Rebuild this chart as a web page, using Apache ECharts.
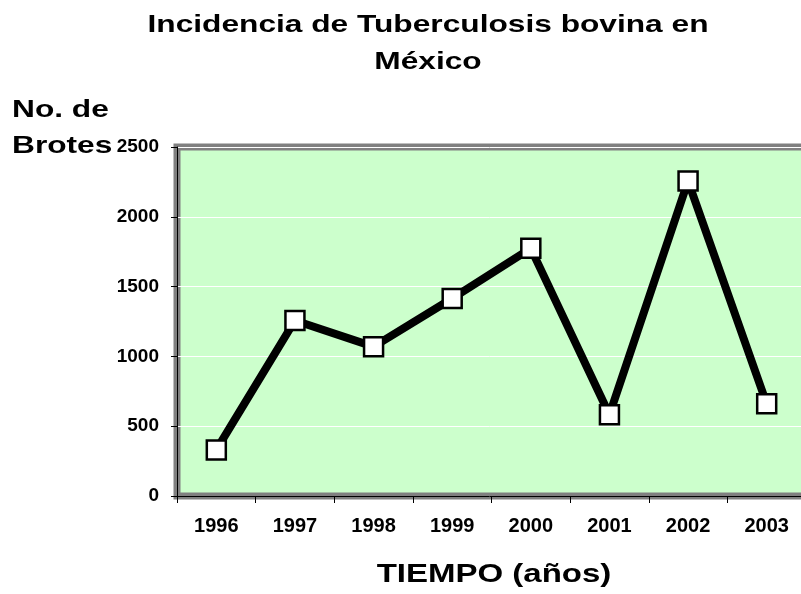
<!DOCTYPE html>
<html>
<head>
<meta charset="utf-8">
<script src="https://cdn.jsdelivr.net/npm/echarts@6/dist/echarts.min.js"></script>
<style>
  html, body { margin: 0; padding: 0; background: #fff; }
  #chart { width: 801px; height: 594px; }
</style>
</head>
<body>
<div id="chart"></div>
<script>
// datos del gráfico
var years = ['1996', '1997', '1998', '1999', '2000', '2001', '2002', '2003'];
var brotes = [330, 1257, 1070, 1415, 1774, 582, 2256, 661];
var yTicks = [0, 500, 1000, 1500, 2000, 2500];

var FONT = '"Liberation Sans", Arial, sans-serif';
// el texto del original está estirado a lo ancho
var SX = 1.32;

var chart = echarts.init(document.getElementById('chart'));

function label(text, x, y, size, align) {
  return {
    type: 'text',
    x: x,
    y: y,
    scaleX: SX,
    style: {
      text: text,
      fontFamily: FONT,
      fontWeight: 'bold',
      fontSize: size,
      fill: '#000',
      textAlign: align,
      textVerticalAlign: 'middle'
    }
  };
}

chart.setOption({
  animation: false,
  backgroundColor: '#fff',
  grid: {
    left: 177,
    top: 147,
    width: 629,
    bottom: 98,
    outerBoundsMode: 'none',
    containLabel: false,
    show: true,
    backgroundColor: '#ccffcc',
    borderColor: '#808080',
    borderWidth: 7
  },
  xAxis: {
    type: 'category',
    data: years,
    boundaryGap: true,
    axisLine: { lineStyle: { color: '#000', width: 1 } },
    axisTick: { show: true, length: 7, alignWithLabel: false, lineStyle: { color: '#000' } },
    axisLabel: {
      margin: 20,
      fontFamily: FONT,
      fontWeight: 'bold',
      fontSize: 20,
      color: '#000'
    }
  },
  yAxis: {
    type: 'value',
    min: yTicks[0],
    max: yTicks[yTicks.length - 1],
    interval: 500,
    axisLine: { show: true, lineStyle: { color: '#000', width: 1 } },
    axisTick: { show: true, length: 6, lineStyle: { color: '#000' } },
    splitLine: { show: true, lineStyle: { color: '#ffffff', width: 1 } },
    axisLabel: {
      margin: 18,
      formatter: function (v) { return String(v); },
      fontFamily: FONT,
      fontWeight: 'bold',
      fontSize: 19,
      color: '#000'
    }
  },
  series: [{
    type: 'line',
    data: brotes,
    lineStyle: { color: '#000', width: 8 },
    symbol: 'rect',
    symbolSize: 19,
    itemStyle: { color: '#fff', borderColor: '#000', borderWidth: 2.5 },
    z: 3
  }],
  graphic: [
    label('Incidencia de Tuberculosis bovina en', 428, 25, 24, 'center'),
    label('México', 428, 62, 24, 'center'),
    label('No. de', 12, 110, 24, 'left'),
    label('Brotes', 12, 146, 24, 'left'),
    label('TIEMPO (años)', 494, 575, 25, 'center')
  ]
});
</script>
</body>
</html>
